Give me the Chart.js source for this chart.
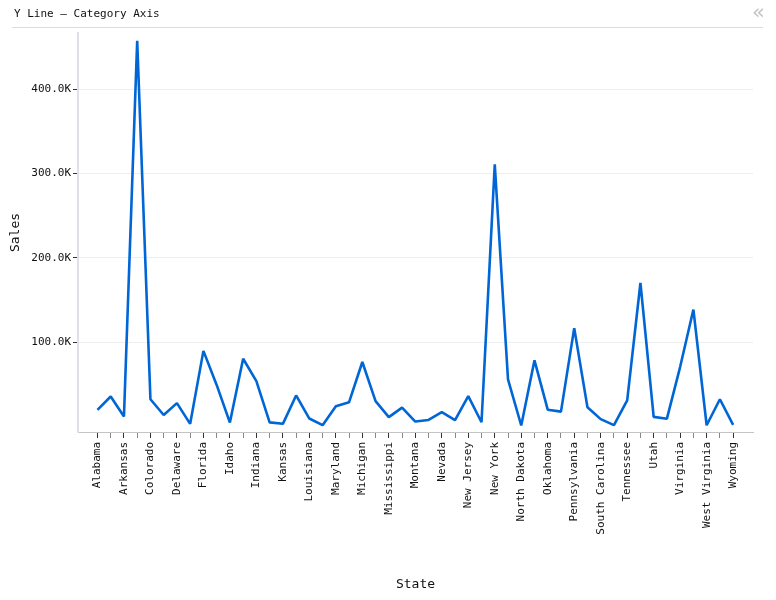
<!DOCTYPE html>
<html>
<head>
<meta charset="utf-8">
<title>Y Line - Category Axis</title>
<script src="https://cdn.jsdelivr.net/npm/chart.js@4"></script>
<style>
    html, body { margin: 0; padding: 0; background: #fff; }
    #wrap { position: relative; width: 776px; height: 600px; overflow: hidden; }
    #chart { position: absolute; left: 0; top: 0; }
    #title { position: absolute; left: 14px; top: 7px; font: 11px "DejaVu Sans Mono", monospace; color: #111; }
    #collapse { position: absolute; left: 752px; top: 0px; font: 21px "DejaVu Sans", sans-serif; color: #c4c4c4; }
    #rule { position: absolute; left: 12px; top: 27px; width: 751px; height: 1px; background: #ddd; }
</style>
</head>
<body>
<div id="wrap">
    <canvas id="chart" width="776" height="600"></canvas>
    <div id="title">Y Line – Category Axis</div>
    <div id="collapse">«</div>
    <div id="rule"></div>
</div>
<script>
const states = ["Alabama", "Arizona", "Arkansas", "California", "Colorado", "Connecticut", "Delaware",
    "District of Columbia", "Florida", "Georgia", "Idaho", "Illinois", "Indiana", "Iowa", "Kansas",
    "Kentucky", "Louisiana", "Maine", "Maryland", "Massachusetts", "Michigan", "Minnesota", "Mississippi",
    "Missouri", "Montana", "Nebraska", "Nevada", "New Hampshire", "New Jersey", "New Mexico", "New York",
    "North Carolina", "North Dakota", "Ohio", "Oklahoma", "Oregon", "Pennsylvania", "Rhode Island",
    "South Carolina", "South Dakota", "Tennessee", "Texas", "Utah", "Vermont", "Virginia", "Washington",
    "West Virginia", "Wisconsin", "Wyoming"];
const sales = [19500, 35300, 11700, 457700, 32100, 13400, 27500, 2900, 89500, 49100, 4400, 80200, 53600,
    4600, 2900, 36600, 9200, 1300, 23700, 28600, 76300, 29900, 10800, 22200, 5600, 7500, 16700, 7300,
    35800, 4800, 310900, 55600, 900, 78300, 19700, 17400, 116500, 22600, 8500, 1300, 30700, 170100,
    11200, 9000, 70600, 138600, 1200, 32100, 1600];
const salesTicks = [100000, 200000, 300000, 400000];

const monoFont = "'DejaVu Sans Mono', monospace";

new Chart(document.getElementById("chart"), {
    type: "line",
    data: {
        datasets: [{
            data: sales.map((v, i) => ({ x: i, y: v })),
            borderColor: "#0066d6",
            borderWidth: 2.6,
            borderJoinStyle: "bevel",
            pointRadius: 0,
            tension: 0,
            clip: false
        }]
    },
    options: {
        responsive: false,
        animation: false,
        layout: { padding: { top: 33, right: 23, bottom: 8, left: 0 } },
        plugins: { legend: { display: false }, tooltip: { enabled: false } },
        scales: {
            x: {
                type: "linear",
                min: -1.47,
                max: 49.5,
                afterBuildTicks: axis => { axis.ticks = states.map((s, i) => ({ value: i })); },
                afterFit: axis => { axis.height = 160; },
                border: { color: "#c4c4c8", width: 1 },
                grid: {
                    drawOnChartArea: false,
                    tickLength: 6,
                    tickColor: ctx => ctx.index % 2 === 0 ? "#333" : "#888"
                },
                ticks: {
                    autoSkip: false,
                    maxRotation: 90,
                    minRotation: 90,
                    padding: 4,
                    color: "#111",
                    font: { family: monoFont, size: 11 },
                    callback: value => value % 2 === 0 ? states[value] : ""
                },
                title: {
                    display: true,
                    text: "State",
                    color: "#111",
                    font: { family: monoFont, size: 13 },
                    padding: 0
                }
            },
            y: {
                min: -6800,
                max: 466900,
                afterBuildTicks: axis => { axis.ticks = salesTicks.map(v => ({ value: v })); },
                afterFit: axis => { axis.width = 78; },
                border: { color: "#e0e0e6", width: 2 },
                grid: {
                    color: "#eeeeee",
                    tickLength: 5,
                    tickColor: "#333"
                },
                ticks: {
                    padding: 2,
                    color: "#111",
                    font: { family: monoFont, size: 11 },
                    callback: value => (value / 1000).toFixed(1) + "K"
                },
                title: {
                    display: true,
                    text: "Sales",
                    color: "#111",
                    font: { family: monoFont, size: 13 },
                    padding: { top: 8, bottom: 0 }
                }
            }
        }
    }
});
</script>
</body>
</html>
